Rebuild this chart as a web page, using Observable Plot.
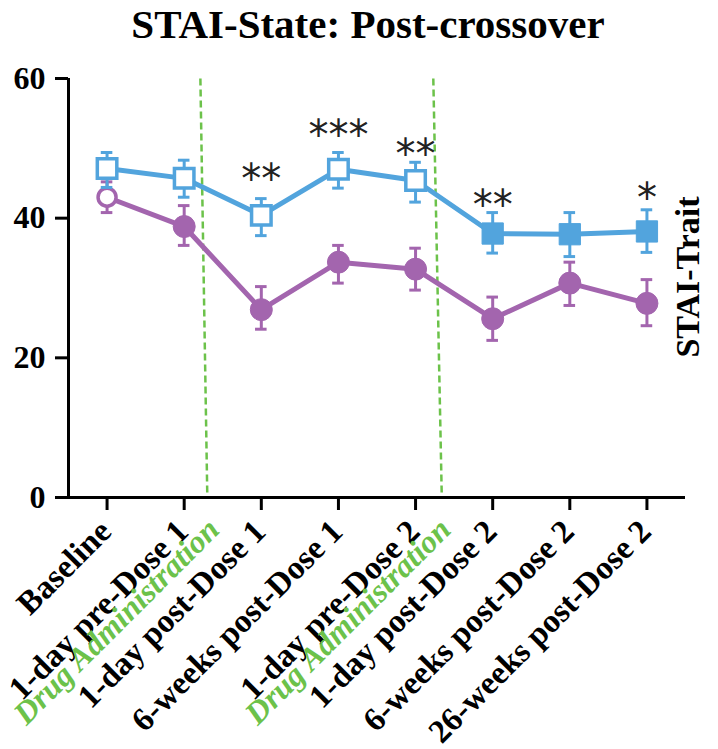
<!DOCTYPE html>
<html><head><meta charset="utf-8">
<script src="https://cdn.jsdelivr.net/npm/d3@7"></script>
<script src="https://cdn.jsdelivr.net/npm/@observablehq/plot@0.6"></script>
<style>
body{margin:0;background:#fff;}
#title{width:718px;box-sizing:border-box;padding-left:18px;height:60px;line-height:60px;font:bold 41px "Liberation Serif",serif;text-align:center;white-space:nowrap;color:#000;}
</style></head><body>
<div id="title">STAI-State: Post-crossover</div>
<div id="chart"></div>
<script>
const timepoints = ["Baseline","1-day pre-Dose 1","1-day post-Dose 1","6-weeks post-Dose 1","1-day pre-Dose 2","1-day post-Dose 2","6-weeks post-Dose 2","26-weeks post-Dose 2"];
// blue series (squares)
const blueMean = [47.1, 45.7, 40.4, 47.0, 45.4, 37.8, 37.7, 38.1];
const blueLo   = [44.4, 43.0, 37.5, 44.3, 42.3, 35.0, 34.5, 35.1];
const blueHi   = [49.4, 48.3, 42.8, 49.4, 48.0, 40.8, 40.8, 41.2];
const blueOpen = [true, true, true, true, true, false, false, false];
// purple series (circles)
const purpleMean = [43.0, 38.8, 26.9, 33.7, 32.7, 25.6, 30.7, 27.8];
const purpleLo   = [40.8, 36.1, 24.1, 30.7, 29.7, 22.5, 27.5, 24.6];
const purpleHi   = [45.2, 41.8, 30.2, 36.1, 35.7, 28.7, 33.7, 31.2];
const purpleOpen = [true, false, false, false, false, false, false, false];
// significance stars
const stars = ["", "", "**", "***", "**", "**", "", "*"];
const starLevel = [null, null, 46.8, 53.1, 50.3, 43.0, null, 44.1];
// drug administration markers (dashed lines), in category-index units
const drugTop = [1.21, 4.23];
const drugBottom = [1.30, 4.34];
const drugLabel = "Drug Administration";
const yTicks = [0, 20, 40, 60];

const BLUE = "#52a4dd", PURPLE = "#a365ae", GREEN = "#6cc24a";
const mk = (mean, lo, hi, open) => mean.map((m, i) => ({i, mean: m, lo: lo[i], hi: hi[i], open: open[i]}));
const blue = mk(blueMean, blueLo, blueHi, blueOpen);
const purple = mk(purpleMean, purpleLo, purpleHi, purpleOpen);
const starRows = stars.map((s, i) => ({i, s, y: starLevel[i]})).filter(d => d.s);
const drugRows = drugTop.map((t, k) => ({x1: t, x2: drugBottom[k]}));
const cap = 0.075;

function seriesMarks(rows, color, symbol, rOpen, rFilled) {
  return [
    Plot.line(rows, {x: "i", y: "mean", stroke: color, strokeWidth: 5}),
    Plot.ruleX(rows, {x: "i", y1: "lo", y2: "hi", stroke: color, strokeWidth: 3}),
    Plot.ruleY(rows, {y: "hi", x1: d => d.i - cap, x2: d => d.i + cap, stroke: color, strokeWidth: 3}),
    Plot.ruleY(rows, {y: "lo", x1: d => d.i - cap, x2: d => d.i + cap, stroke: color, strokeWidth: 3}),
    Plot.dot(rows.filter(d => d.open), {x: "i", y: "mean", symbol, r: rOpen, fill: "white", stroke: color, strokeWidth: 3.5}),
    Plot.dot(rows.filter(d => !d.open), {x: "i", y: "mean", symbol, r: rFilled, fill: color, stroke: color, strokeWidth: 1})
  ];
}

const chart = Plot.plot({
  width: 718, height: 689,
  marginTop: 18, marginBottom: 252, marginLeft: 68, marginRight: 33,
  style: {fontFamily: "Liberation Serif", fontWeight: "bold", color: "#000", background: "#fff", overflow: "visible"},
  x: {domain: [-0.5, 7.5], axis: null},
  y: {domain: [0, 60], axis: null},
  marks: [
    Plot.link(drugRows, {x1: "x1", x2: "x2", y1: 60, y2: 0, stroke: GREEN, strokeWidth: 2.5, strokeDasharray: "7,4"}),
    Plot.ruleX([-0.5], {y1: 0, y2: 60, stroke: "#000", strokeWidth: 3}),
    Plot.ruleY([0], {x1: -0.5, x2: 7.5, stroke: "#000", strokeWidth: 3}),
    Plot.axisY(yTicks, {tickSize: 13, tickPadding: 10, fontSize: 32, fontWeight: "bold", fontFamily: "Liberation Serif", strokeWidth: 3, label: null}),
    Plot.axisX(d3.range(timepoints.length), {tickSize: 13, tickFormat: () => "", strokeWidth: 3, label: null}),
    ...seriesMarks(purple, PURPLE, "circle", 9, 11),
    ...seriesMarks(blue, BLUE, "square", 11, 12),
    Plot.text(starRows, {x: "i", y: "y", text: "s", fontFamily: "DejaVu Sans", fontWeight: "normal", fontSize: 40, lineAnchor: "bottom", dy: 22, fill: "#222"}),
    Plot.text(timepoints, {x: (d, i) => i, text: d => d, frameAnchor: "bottom", rotate: -45, textAnchor: "end", lineAnchor: "bottom", dx: 6, dy: 36, fontSize: 33, fontWeight: "bold", fontFamily: "Liberation Serif", fill: "#000"}),
    Plot.text([1, 4], {x: d => d, text: () => drugLabel, frameAnchor: "bottom", rotate: -45, textAnchor: "end", lineAnchor: "bottom", dx: 37, dy: 34, fontSize: 32, fontWeight: "bold", fontStyle: "italic", fontFamily: "Liberation Serif", fill: GREEN}),
    Plot.text(["STAI-Trait"], {frameAnchor: "right", text: d => d, rotate: -90, textAnchor: "middle", lineAnchor: "bottom", dx: 13, dy: -11, fontSize: 34, fontWeight: "bold", fontFamily: "Liberation Serif", fill: "#000"})
  ]
});
document.getElementById("chart").appendChild(chart);
</script>
</body></html>
